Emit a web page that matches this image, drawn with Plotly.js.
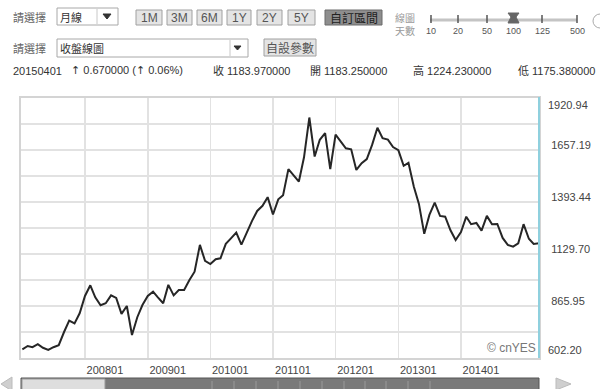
<!DOCTYPE html>
<html><head><meta charset="utf-8">
<script src="https://cdn.plot.ly/plotly-3.0.1.min.js"></script>
<style>html,body{margin:0;padding:0;background:#fff;}#chart{width:600px;height:389px;}</style>
</head><body><div id="chart"></div>
<script>
// ---- data ----
const startYear = 2007;            // first monthly bar: 2007-01
const closeValues = [
  646,663,657,672,654,643,657,667,734,792,
  778,829,917,971,910,870,880,920,907,826,
  866,719,809,871,917,939,910,880,973,920,
  947,947,998,1040,1176,1095,1079,1103,1108,1181,
  1209,1238,1177,1238,1298,1348,1374,1418,1330,1407,
  1428,1560,1531,1497,1620,1822,1624,1709,1743,1560,
  1735,1696,1666,1661,1556,1590,1611,1683,1770,1717,
  1710,1672,1656,1577,1592,1472,1384,1232,1328,1390,
  1323,1319,1250,1201,1241,1319,1281,1287,1248,1323,
  1281,1282,1211,1176,1167,1184,1281,1207,1181,1184
];
const xTickDates  = ['2008-01-01','2009-01-01','2010-01-01','2011-01-01','2012-01-01','2013-01-01','2014-01-01'];
const xTickLabels = ['200801','200901','201001','201101','201201','201301','201401'];
const yLabelValues = [602.20, 865.95, 1129.70, 1393.44, 1657.19, 1920.94];
const yLabelText   = ['602.20','865.95','1129.70','1393.44','1657.19','1920.94'];
const rangeButtons = ['1M','3M','6M','1Y','2Y','5Y'];
const sliderStops  = ['10','20','50','100','125','500'];
const quoteDate = '20150401';
const quoteChange = ['↑', ' 0.670000 (', '↑', ' 0.06%)'];
const quoteLabels = ['收','開','高','低'];
const quoteValues = ['1183.970000','1183.250000','1224.230000','1175.380000'];

// ---- build ----
const months = closeValues.map((_, i) => {
  const y = startYear + Math.floor(i / 12), m = i % 12 + 1;
  return y + '-' + String(m).padStart(2, '0') + '-01';
});
const yGridVals = [], yGridText = [];
yLabelValues.forEach((v, i) => {
  if (i > 0) { yGridVals.push((v + yLabelValues[i-1]) / 2); yGridText.push(''); }
  yGridVals.push(v);
  yGridText.push(i === 0 || i === yLabelValues.length - 1 ? '' : yLabelText[i]);
});

const FONT = 'Arial, "Liberation Sans", "Noto Sans CJK TC", sans-serif';
const L = 21, R = 539, T = 98, B = 358;
const px = x => (x - L) / (R - L);
const py = y => (B - y) / (B - T);

const shapes = [];
const ann = [];
function rect(x0, y0, x1, y1, fill, line, lw) {
  shapes.push({type:'rect', xref:'paper', yref:'paper', x0:px(x0), x1:px(x1), y0:py(y1), y1:py(y0),
    fillcolor: fill, line:{color: line, width: lw === undefined ? 1 : lw}});
}
function seg(x0, y0, x1, y1, color, w) {
  shapes.push({type:'line', xref:'paper', yref:'paper', x0:px(x0), x1:px(x1), y0:py(y0), y1:py(y1),
    line:{color: color, width: w}});
}
function path(d, fill, line) {
  const s = 'M ' + d.map(p => px(p[0]) + ',' + py(p[1])).join(' L ') + ' Z';
  shapes.push({type:'path', xref:'paper', yref:'paper', path: s, fillcolor: fill, line:{color: line || fill, width: 1}});
}
function txt(text, x, y, size, color, anchor) {
  ann.push({text: text, xref:'paper', yref:'paper', x: px(x), y: py(y), xanchor: anchor || 'left', yanchor:'middle',
    showarrow:false, borderpad:0, font:{family: FONT, size: size, color: color}});
}

// header row 1
txt('請選擇', 12, 17, 11, '#666');
rect(57, 8, 118, 25, '#ffffff', '#a8a8a8');
seg(97, 9, 97, 24, '#c8c8c8', 1);
txt('月線', 59, 17, 11, '#333');
path([[103,14],[111,14],[107,19]], '#333');
const btnX = [[136,162],[167,192],[197,222],[227,251],[257,282],[288,315]];
rangeButtons.forEach((b, i) => {
  rect(btnX[i][0], 10, btnX[i][1], 25, '#e4e4e4', '#a0a0a0');
  txt(b, (btnX[i][0] + btnX[i][1]) / 2, 18, 12, '#555', 'center');
});
rect(325, 10, 382, 25, '#8e8e8e', '#6a6a6a');
txt('自訂區間', 353.5, 18, 12, '#222', 'center');
txt('線圖', 394, 18, 10, '#9a9a9a');
txt('天數', 394, 31, 10, '#9a9a9a');
seg(430, 20, 577, 20, '#c4c4c4', 3);
const stopX = [431, 458, 487, 513, 542, 577];
sliderStops.forEach((s, i) => {
  seg(stopX[i], 15, stopX[i], 23, '#555', 1.5);
  txt(s, stopX[i], 31, 9, '#555', 'center');
});
path([[508,13],[519,13],[516,17],[519,23],[508,23],[511,17]], '#666');
shapes.push({type:'circle', xref:'paper', yref:'paper', x0:px(593), x1:px(607), y0:py(28), y1:py(14), line:{color:'#aaa', width:1}});

// header row 2
txt('請選擇', 12, 48, 11, '#666');
rect(57, 39, 248, 57, '#ffffff', '#a8a8a8');
seg(230, 40, 230, 56, '#c8c8c8', 1);
txt('收盤線圖', 59, 48, 11, '#333');
path([[234,46],[241,46],[237.5,50]], '#333');
rect(264, 39, 316, 56, '#e4e4e4', '#a0a0a0');
txt('自設參數', 290, 48, 12, '#555', 'center');

// header row 3
const arrowSpan = a => '<span style="font-family:\'DejaVu Sans\'">' + a + '</span>';
txt(quoteDate, 12, 71, 11, '#333');
txt(arrowSpan(quoteChange[0]) + quoteChange[1] + arrowSpan(quoteChange[2]) + quoteChange[3], 70, 71, 11, '#333');
const qX = [212, 309, 412, 517];
quoteLabels.forEach((q, i) => txt(q + ' ' + quoteValues[i], qX[i], 71, 11, '#333'));

// right edge & watermark
seg(539, 97, 539, 358, '#8fd0de', 2);
txt('© cnYES', 537, 348, 12, '#777', 'right');

// y end labels
ann.push({text: yLabelText[yLabelText.length-1], xref:'paper', yref:'y', x:1, y: yLabelValues[yLabelValues.length-1],
  xanchor:'left', yanchor:'middle', xshift: 8, yshift: -7, showarrow:false, borderpad:0, font:{family:FONT, size:11, color:'#444'}});
ann.push({text: yLabelText[0], xref:'paper', yref:'y', x:1, y: yLabelValues[0],
  xanchor:'left', yanchor:'middle', xshift: 8, yshift: 8, showarrow:false, borderpad:0, font:{family:FONT, size:11, color:'#444'}});

// scrollbar
path([[1,384],[12,377],[12,391]], '#cfcfcf', '#bbbbbb');
path([[571,384],[556,378],[556,390]], '#cfcfcf', '#bbbbbb');
rect(21, 378, 539, 393, '#7a7a7a', '#555555');
rect(22, 379, 105, 392, '#dedede', '#999999');
[212,234,256,278,300,322,344,365,386,408,430].forEach(x => seg(x, 381, x, 389, '#9a9a9a', 1));

const trace = {
  x: months, y: closeValues, type: 'scatter', mode: 'lines',
  line: {color: '#262626', width: 2}, hoverinfo: 'skip'
};

const layout = {
  width: 600, height: 389,
  margin: {l: L, r: 600 - R, t: T, b: 389 - B, pad: 0},
  paper_bgcolor: '#ffffff', plot_bgcolor: '#ffffff',
  showlegend: false,
  font: {family: FONT, size: 11, color: '#444'},
  xaxis: {
    type: 'date', range: ['2006-12-24', '2015-04-01'],
    tickmode: 'array', tickvals: xTickDates, ticktext: xTickLabels,
    ticks: '', ticklabelshift: 20, ticklabelstandoff: 1,
    showgrid: true, gridcolor: '#e2e2e2', gridwidth: 1.5,
    showline: true, linecolor: '#d4d4d4', linewidth: 2, mirror: true,
    zeroline: false, fixedrange: true,
    tickfont: {family: FONT, size: 11, color: '#444'}
  },
  yaxis: {
    range: [yLabelValues[0], yLabelValues[yLabelValues.length-1]],
    side: 'right', tickmode: 'array', tickvals: yGridVals, ticktext: yGridText,
    ticks: '', ticklabelshift: -5, ticklabelstandoff: 8,
    showgrid: true, gridcolor: '#e2e2e2', gridwidth: 1.5,
    showline: true, linecolor: '#d4d4d4', linewidth: 2, mirror: true,
    zeroline: false, fixedrange: true,
    tickfont: {family: FONT, size: 11, color: '#444'}
  },
  shapes: shapes,
  annotations: ann
};

Plotly.newPlot('chart', [trace], layout, {displayModeBar: false, staticPlot: true});
</script>
</body></html>
